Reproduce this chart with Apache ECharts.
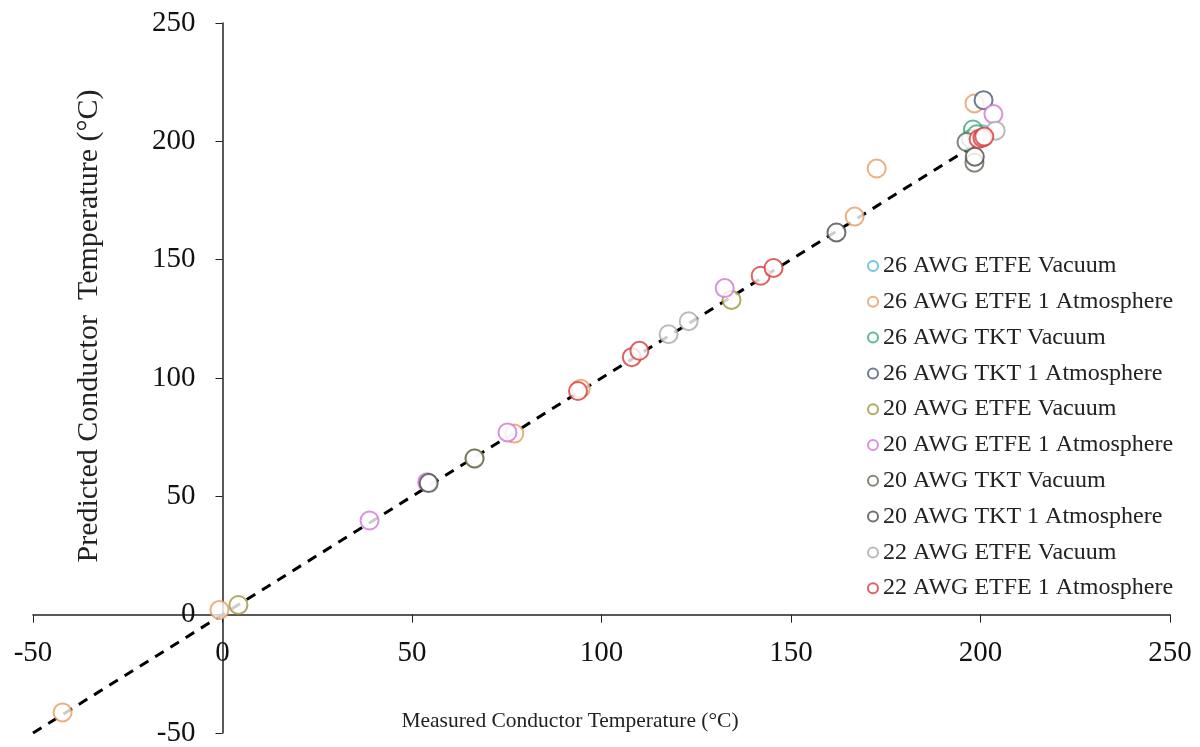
<!DOCTYPE html>
<html>
<head>
<meta charset="utf-8">
<script src="https://cdn.jsdelivr.net/npm/echarts@6/dist/echarts.min.js"></script>
<style>
  html, body { margin: 0; padding: 0; background: #fff; }
  #chart { width: 1200px; height: 747px; }
</style>
</head>
<body>
<div id="chart"></div>
<script>
// series names (legend order)
var seriesNames = [
  '26 AWG ETFE Vacuum',
  '26 AWG ETFE 1 Atmosphere',
  '26 AWG TKT Vacuum',
  '26 AWG TKT 1 Atmosphere',
  '20 AWG ETFE Vacuum',
  '20 AWG ETFE 1 Atmosphere',
  '20 AWG TKT Vacuum',
  '20 AWG TKT 1 Atmosphere',
  '22 AWG ETFE Vacuum',
  '22 AWG ETFE 1 Atmosphere'
]
var seriesColors = ['#4fb9d6', '#e59c63', '#38a877', '#4a5a78', '#9d9340', '#d275d6', '#5e6b55', '#4c4c4c', '#a9a9a9', '#d43a3a']

// [measured, predicted]
var awg26EtfeVac = [[199.5, 202], [200.5, 203]]
var awg26EtfeAtm = [[-42.2, -41.3], [-0.8, 2], [77, 76.5], [94.5, 95.5], [166.8, 168.2], [172.6, 188.5], [198.4, 216]]
var awg26TktVac = [[198, 205], [197.5, 201], [199, 203]]
var awg26TktAtm = [[200.8, 217.4]]
var awg20EtfeVac = [[4.2, 4.1], [66.5, 66], [134.3, 133]]
var awg20EtfeAtm = [[38.8, 39.8], [54, 56], [75.2, 77], [132.5, 138], [203.4, 211.5]]
var awg20TktVac = [[66.5, 66], [196.3, 199.7], [198.4, 191]]
var awg20TktAtm = [[54.4, 55.6], [162, 161.5], [198.5, 193.5]]
var awg22EtfeVac = [[117.7, 118.5], [123, 124], [204, 204.5]]
var awg22EtfeAtm = [[93.8, 94.5], [108, 108.8], [110, 111.5], [142, 143.2], [145.4, 146.5], [199.5, 201], [200.5, 201.5], [201, 202]]
var allData = [awg26EtfeVac, awg26EtfeAtm, awg26TktVac, awg26TktAtm, awg20EtfeVac, awg20EtfeAtm, awg20TktVac, awg20TktAtm, awg22EtfeVac, awg22EtfeAtm]

// 1:1 reference line
var refLine = [[-50, -50], [200, 200]]

var xTicks = { min: -50, max: 250, interval: 50 }
var yTicks = { min: -50, max: 250, interval: 50 }

var font = 'Liberation Serif, Times New Roman, serif'
var gridBox = { left: 33, right: 30, top: 23, bottom: 14 }
var W = 1200, H = 747
// axes cross at 0, so shift the axes (line + labels) from the grid edge to zero
var plotW = W - gridBox.left - gridBox.right
var plotH = H - gridBox.top - gridBox.bottom
var yAxisShift = plotW * (0 - xTicks.min) / (xTicks.max - xTicks.min)
var xAxisShift = plotH * (0 - yTicks.min) / (yTicks.max - yTicks.min)

var myChart = echarts.init(document.getElementById('chart'))

var series = [{
  type: 'line',
  data: refLine,
  showSymbol: false,
  silent: true,
  z: 1,
  lineStyle: { color: '#000', width: 3, type: [10, 8] }
}]
seriesNames.forEach(function (name, i) {
  series.push({
    name: name,
    type: 'scatter',
    data: allData[i],
    symbol: 'emptyCircle',
    symbolSize: 18,
    z: 2 + i,
    itemStyle: { color: seriesColors[i], borderColor: seriesColors[i], borderWidth: 1.3 }
  })
})

var option = {
  animation: false,
  backgroundColor: '#fff',
  grid: {
    left: gridBox.left,
    right: gridBox.right,
    top: gridBox.top,
    bottom: gridBox.bottom,
    containLabel: false,
    outerBoundsMode: 'none'
  },
  legend: {
    orient: 'vertical',
    left: 862,
    top: 249,
    itemWidth: 10,
    itemHeight: 10,
    itemGap: 11.8,
    data: seriesNames,
    textStyle: { fontFamily: font, fontSize: 24, color: '#222' }
  },
  xAxis: {
    type: 'value',
    position: 'bottom',
    offset: -xAxisShift,
    min: xTicks.min,
    max: xTicks.max,
    interval: xTicks.interval,
    axisLine: { show: true, onZero: false, lineStyle: { color: '#222', width: 1.5 } },
    axisTick: { show: true, inside: false, length: 8, lineStyle: { color: '#222' } },
    axisLabel: { margin: 24, fontFamily: font, fontSize: 29, color: '#111' },
    splitLine: { show: false }
  },
  yAxis: {
    type: 'value',
    position: 'left',
    offset: -yAxisShift,
    min: yTicks.min,
    max: yTicks.max,
    interval: yTicks.interval,
    axisLine: { show: true, onZero: false, lineStyle: { color: '#222', width: 1.5 } },
    axisTick: { show: true, inside: false, length: 7, lineStyle: { color: '#222' } },
    axisLabel: { margin: 27, fontFamily: font, fontSize: 29, color: '#111' },
    splitLine: { show: false }
  },
  graphic: [
    {
      type: 'text',
      x: 570,
      y: 721,
      style: {
        text: 'Measured Conductor Temperature (°C)',
        fontFamily: font,
        fontSize: 21.5,
        fill: '#222',
        textAlign: 'center',
        textVerticalAlign: 'middle'
      }
    },
    {
      type: 'text',
      x: 89,
      y: 326,
      rotation: Math.PI / 2,
      style: {
        text: 'Predicted Conductor  Temperature (°C)',
        fontFamily: font,
        fontSize: 30,
        fill: '#222',
        textAlign: 'center',
        textVerticalAlign: 'middle'
      }
    }
  ],
  series: series
}
myChart.setOption(option, true)
</script>
</body>
</html>
